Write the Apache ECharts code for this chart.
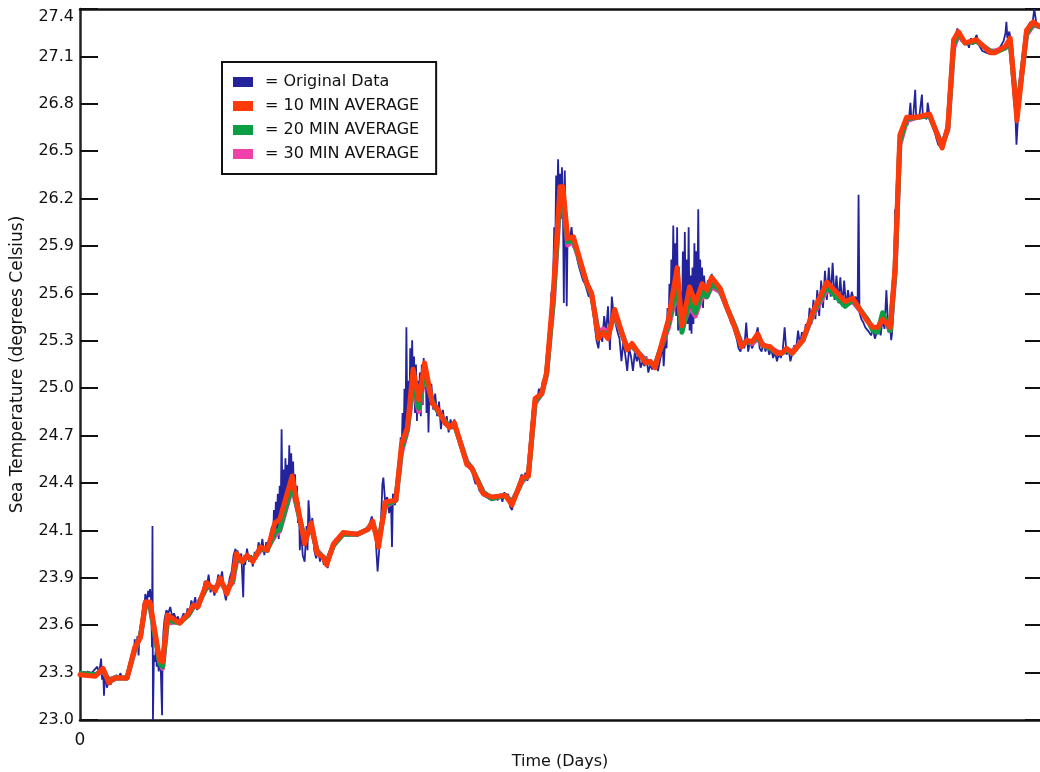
<!DOCTYPE html>
<html>
<head>
<meta charset="utf-8">
<script src="https://cdn.jsdelivr.net/npm/echarts@6/dist/echarts.min.js"></script>
<style>html,body{margin:0;padding:0;background:#fff;}#chart{width:1040px;height:772px;}</style>
</head>
<body>
<div id="chart"></div>
<script>
// Y tick labels as printed on the original axis (15 equal steps from 23.0 to 27.4)
var yTickLabels = ['23.0','23.3','23.6','23.9','24.1','24.4','24.7','25.0','25.3','25.6','25.9','26.2','26.5','26.8','27.1','27.4'];
var yMin = 23.0, yMax = 27.4;
var xMin = 0, xMax = 10;

var seriesNames = ['Original Data', '10 MIN AVERAGE', '20 MIN AVERAGE', '30 MIN AVERAGE'];

// Original (raw) data: [time, temperature]
var originalData = [
[0.00,23.29],[0.04,23.28],[0.08,23.30],[0.12,23.29],[0.15,23.31],[0.18,23.33],[0.20,23.29],[0.22,23.38],[0.23,23.25],[0.24,23.33],[0.25,23.15],[0.26,23.30],[0.28,23.20],[0.30,23.24],[0.32,23.22],[0.34,23.27],[0.36,23.24],[0.38,23.28],[0.40,23.25],[0.42,23.29],[0.44,23.26],[0.46,23.27],[0.48,23.25],[0.50,23.28],
[0.53,23.35],[0.55,23.42],[0.56,23.38],[0.57,23.50],[0.58,23.44],[0.60,23.52],[0.61,23.40],[0.62,23.54],[0.64,23.60],[0.66,23.72],[0.67,23.68],[0.68,23.78],[0.70,23.74],[0.71,23.80],[0.72,23.76],[0.73,23.81],[0.74,23.75],[0.75,23.45],[0.755,24.20],[0.76,23.00],[0.77,23.40],[0.78,23.36],[0.79,23.44],[0.80,23.33],[0.81,23.40],[0.82,23.30],[0.83,23.38],[0.84,23.34],[0.855,23.03],[0.86,23.42],[0.87,23.55],[0.88,23.62],
[0.90,23.68],[0.92,23.66],[0.94,23.70],[0.96,23.64],[0.98,23.66],[1.00,23.62],[1.02,23.64],[1.04,23.60],[1.06,23.63],[1.08,23.66],[1.10,23.62],[1.12,23.69],[1.14,23.66],[1.16,23.74],[1.18,23.70],[1.20,23.76],[1.22,23.68],[1.24,23.72],[1.26,23.77],[1.28,23.80],[1.30,23.86],[1.32,23.82],[1.34,23.90],[1.36,23.79],[1.38,23.83],[1.40,23.77],[1.42,23.82],[1.44,23.90],[1.46,23.86],[1.48,23.92],[1.50,23.80],[1.52,23.74],[1.54,23.82],[1.56,23.88],[1.58,23.92],[1.60,24.02],[1.62,24.06],[1.63,23.96],[1.64,24.05],[1.66,23.99],[1.68,24.03],[1.70,23.76],[1.71,24.02],[1.72,23.96],[1.74,24.06],[1.76,23.98],[1.78,24.02],[1.80,23.95],[1.82,24.04],[1.84,24.00],[1.86,24.10],[1.88,24.05],[1.90,24.12],[1.92,24.02],[1.94,24.10],[1.96,24.04],[1.98,24.14],
[2.00,24.20],[2.01,24.10],[2.02,24.30],[2.03,24.15],[2.04,24.35],[2.05,24.18],[2.06,24.40],[2.07,24.12],[2.08,24.45],[2.09,24.20],[2.10,24.80],[2.11,24.25],[2.12,24.55],[2.13,24.30],[2.14,24.62],[2.15,24.35],[2.16,24.58],[2.17,24.40],[2.18,24.70],[2.19,24.38],[2.20,24.65],[2.21,24.42],[2.22,24.60],[2.23,24.35],[2.24,24.52],[2.25,24.30],[2.26,24.45],[2.27,24.22],[2.28,24.35],[2.29,24.05],[2.30,24.20],
[2.32,24.02],[2.34,23.98],[2.36,24.20],[2.37,24.05],[2.38,24.36],[2.40,24.18],[2.42,24.25],[2.44,24.05],[2.46,24.00],[2.48,24.06],[2.50,23.98],[2.52,24.03],[2.54,23.96],[2.56,23.99],[2.58,23.94],[2.60,24.03],[2.62,24.08],[2.64,24.06],[2.66,24.12],[2.68,24.10],[2.70,24.14],[2.72,24.13],[2.74,24.16],[2.78,24.15],[2.82,24.14],[2.86,24.16],[2.90,24.15],[2.94,24.17],[2.98,24.18],[3.02,24.22],[3.04,24.26],[3.06,24.20],[3.08,24.12],[3.10,23.92],[3.12,24.08],[3.14,24.30],[3.15,24.46],[3.16,24.50],[3.18,24.34],[3.20,24.38],[3.22,24.28],[3.24,24.34],[3.25,24.07],[3.26,24.40],[3.28,24.33],[3.30,24.42],
[3.32,24.60],[3.33,24.50],[3.34,24.75],[3.35,24.65],[3.36,24.90],[3.37,24.70],[3.38,25.05],[3.39,24.75],[3.40,25.43],[3.41,24.80],[3.42,25.10],[3.43,24.85],[3.44,25.30],[3.45,24.95],[3.46,25.35],[3.47,25.00],[3.48,25.25],[3.49,24.90],[3.50,25.20],[3.51,24.85],[3.52,25.10],[3.53,24.95],[3.54,25.15],[3.55,24.88],[3.56,25.20],[3.57,24.95],[3.58,25.24],[3.59,25.05],[3.60,25.20],[3.61,24.90],[3.62,25.15],[3.63,24.78],[3.64,25.05],[3.65,24.95],[3.66,25.08],[3.68,24.92],[3.70,25.02],[3.72,24.88],[3.74,24.97],[3.76,24.80],[3.78,24.92],[3.80,24.82],[3.82,24.88],[3.84,24.78],[3.86,24.86],[3.88,24.80],[3.90,24.86],[3.92,24.80],
[3.95,24.74],[3.98,24.70],[4.00,24.62],[4.02,24.58],[4.04,24.60],[4.06,24.55],[4.08,24.57],[4.10,24.50],[4.12,24.46],[4.14,24.48],[4.16,24.42],[4.18,24.41],[4.20,24.39],[4.23,24.38],[4.26,24.37],[4.29,24.36],[4.32,24.38],[4.35,24.36],[4.38,24.40],[4.40,24.35],[4.42,24.41],[4.44,24.37],[4.46,24.40],[4.48,24.32],[4.50,24.30],[4.52,24.36],[4.54,24.40],[4.56,24.45],[4.58,24.48],[4.60,24.52],[4.62,24.49],[4.64,24.53],[4.66,24.48],[4.68,24.52],
[4.70,24.80],[4.72,24.95],[4.74,25.00],[4.76,24.96],[4.78,25.05],[4.80,25.00],[4.82,25.10],[4.84,25.08],[4.86,25.20],[4.88,25.30],[4.89,25.45],[4.90,25.40],[4.91,25.65],[4.92,25.55],[4.93,25.78],[4.94,26.05],[4.95,25.90],[4.96,26.37],[4.97,26.15],[4.98,26.47],[4.99,26.20],[5.00,26.38],[5.01,26.10],[5.02,26.42],[5.03,26.25],[5.04,25.58],[5.05,26.40],[5.06,26.00],[5.07,25.56],[5.08,26.05],[5.10,25.95],[5.12,26.05],[5.14,25.92],[5.16,25.98],[5.18,25.85],
[5.20,25.80],[5.22,25.76],[5.24,25.72],[5.26,25.70],[5.28,25.66],[5.30,25.62],[5.32,25.66],[5.34,25.55],[5.36,25.45],[5.38,25.35],[5.40,25.30],[5.42,25.42],[5.44,25.34],[5.46,25.50],[5.48,25.40],[5.50,25.56],[5.52,25.29],[5.54,25.62],[5.56,25.50],[5.58,25.45],[5.60,25.40],[5.62,25.36],[5.64,25.22],[5.66,25.34],[5.68,25.26],[5.70,25.16],[5.72,25.30],[5.74,25.25],[5.76,25.16],[5.78,25.28],[5.80,25.22],[5.82,25.26],[5.84,25.18],[5.86,25.22],[5.88,25.19],[5.90,25.25],[5.92,25.15],[5.94,25.20],[5.96,25.17],[5.98,25.19],[6.00,25.22],[6.02,25.16],
[6.05,25.25],[6.07,25.32],[6.08,25.19],[6.10,25.40],[6.11,25.30],[6.12,25.55],[6.13,25.42],[6.14,25.70],[6.15,25.48],[6.16,25.85],[6.17,25.55],[6.18,26.06],[6.19,25.60],[6.20,25.95],[6.21,25.50],[6.22,26.05],[6.23,25.41],[6.24,25.80],[6.25,25.45],[6.26,25.65],[6.27,25.40],[6.28,25.90],[6.29,25.42],[6.30,26.02],[6.31,25.50],[6.32,25.85],[6.33,25.45],[6.34,26.05],[6.35,25.41],[6.36,25.75],[6.37,25.39],[6.38,25.80],[6.39,25.45],[6.40,25.95],[6.41,25.50],[6.42,25.90],[6.43,25.52],[6.44,26.16],[6.45,25.55],[6.46,25.85],[6.47,25.60],[6.48,25.80],[6.49,25.55],[6.50,25.75],[6.52,25.62],[6.54,25.72],[6.56,25.68],[6.58,25.76],[6.60,25.70],[6.62,25.68],[6.64,25.66],
[6.66,25.65],[6.68,25.62],[6.70,25.60],[6.72,25.56],[6.74,25.55],[6.76,25.50],[6.78,25.46],[6.80,25.44],[6.82,25.40],[6.84,25.36],[6.86,25.30],[6.88,25.28],[6.90,25.34],[6.92,25.30],[6.94,25.46],[6.96,25.28],[6.98,25.35],[7.00,25.30],[7.02,25.33],[7.04,25.38],[7.06,25.43],[7.08,25.30],[7.10,25.28],[7.12,25.34],[7.14,25.28],[7.16,25.32],[7.18,25.26],[7.20,25.30],[7.22,25.24],[7.24,25.28],[7.26,25.22],[7.28,25.27],[7.30,25.24],[7.32,25.29],[7.34,25.43],[7.36,25.26],[7.38,25.30],[7.40,25.22],[7.42,25.27],[7.44,25.32],[7.46,25.30],[7.48,25.41],
[7.50,25.32],[7.52,25.40],[7.54,25.36],[7.56,25.45],[7.58,25.40],[7.60,25.55],[7.62,25.45],[7.64,25.60],[7.66,25.48],[7.68,25.66],[7.70,25.50],[7.72,25.72],[7.74,25.55],[7.76,25.78],[7.78,25.60],[7.80,25.80],[7.82,25.62],[7.84,25.83],[7.86,25.60],[7.88,25.75],[7.90,25.58],[7.92,25.74],[7.94,25.56],[7.96,25.72],[7.98,25.55],[8.00,25.66],[8.02,25.58],[8.04,25.65],[8.06,25.60],[8.08,25.62],[8.10,25.55],[8.11,26.25],[8.12,25.52],[8.14,25.48],[8.16,25.46],[8.18,25.43],[8.20,25.42],[8.22,25.40],[8.24,25.38],[8.26,25.42],[8.28,25.36],[8.30,25.40],[8.32,25.44],[8.34,25.38],[8.36,25.48],[8.38,25.42],[8.40,25.66],[8.42,25.40],[8.44,25.42],[8.45,25.35],[8.46,25.40],
[8.48,25.60],[8.49,26.16],[8.50,25.90],[8.51,26.05],[8.52,26.20],[8.53,26.45],[8.54,26.55],[8.56,26.62],[8.58,26.70],[8.60,26.72],[8.62,26.68],[8.64,26.75],[8.65,26.82],[8.66,26.72],[8.68,26.74],[8.70,26.90],[8.71,26.73],[8.72,26.74],[8.74,26.72],[8.77,26.87],[8.78,26.73],[8.80,26.74],[8.82,26.72],[8.83,26.82],[8.85,26.74],[8.86,26.75],[8.88,26.70],[8.90,26.65],[8.92,26.60],[8.94,26.56],[8.96,26.55],[8.99,26.53],[9.00,26.58],[9.02,26.62],[9.04,26.68],[9.06,26.85],[9.08,27.05],[9.10,27.22],
[9.12,27.24],[9.14,27.28],[9.16,27.24],[9.18,27.20],[9.20,27.22],[9.22,27.18],[9.24,27.20],[9.26,27.16],[9.28,27.22],[9.30,27.18],[9.32,27.21],[9.34,27.24],[9.36,27.18],[9.38,27.16],[9.40,27.14],[9.42,27.15],[9.44,27.13],[9.46,27.14],[9.48,27.12],[9.50,27.14],[9.52,27.12],[9.54,27.14],[9.56,27.15],[9.58,27.16],[9.60,27.18],[9.62,27.20],[9.64,27.25],[9.65,27.32],[9.66,27.22],[9.68,27.26],[9.70,27.20],[9.72,27.00],[9.74,26.80],[9.755,26.56],[9.77,26.72],[9.79,26.90],[9.82,27.10],[9.85,27.25],[9.88,27.30],[9.90,27.32],[9.92,27.30],[9.94,27.40],[9.96,27.32],[9.98,27.30],[10.00,27.28]
];

// Times of the running-average samples
var avgTime = [
0.00,0.16,0.24,0.30,0.36,0.49,0.57,0.63,0.68,0.73,
0.83,0.86,0.91,1.04,1.13,1.18,1.23,1.32,1.41,1.46,
1.53,1.59,1.63,1.69,1.74,1.80,1.88,1.95,2.03,2.08,
2.21,2.22,2.34,2.41,2.47,2.53,2.57,2.64,2.74,2.89,
3.00,3.05,3.11,3.18,3.29,3.35,3.41,3.47,3.53,3.59,
3.67,3.73,3.80,3.85,3.90,4.03,4.08,4.20,4.29,4.43,
4.50,4.61,4.67,4.74,4.81,4.86,4.93,5.00,5.03,5.08,
5.14,5.28,5.33,5.40,5.45,5.50,5.57,5.70,5.75,5.89,
5.94,5.99,6.13,6.22,6.27,6.35,6.41,6.48,6.53,6.58,
6.67,6.74,6.82,6.89,6.95,7.00,7.06,7.11,7.19,7.26,
7.31,7.36,7.42,7.53,7.63,7.78,7.86,7.97,8.05,8.20,
8.26,8.31,8.36,8.44,8.49,8.54,8.61,8.72,8.85,8.98,
9.04,9.10,9.15,9.22,9.34,9.48,9.53,9.64,9.69,9.76,
9.86,9.93,10.00
];
var avg10 = [
23.28,23.27,23.32,23.23,23.26,23.26,23.45,23.51,23.73,23.73,
23.37,23.36,23.65,23.60,23.66,23.71,23.70,23.85,23.80,23.88,
23.78,23.88,24.03,23.98,24.02,23.98,24.07,24.05,24.22,24.24,
24.51,24.50,24.09,24.22,24.03,24.01,23.96,24.09,24.16,24.15,
24.18,24.23,24.07,24.35,24.36,24.71,24.81,25.17,24.98,25.21,
24.96,24.92,24.84,24.81,24.84,24.58,24.56,24.40,24.38,24.39,
24.33,24.50,24.51,24.99,25.02,25.15,25.65,26.30,26.30,25.98,
25.99,25.70,25.64,25.36,25.40,25.36,25.54,25.29,25.33,25.21,
25.22,25.18,25.48,25.80,25.44,25.68,25.58,25.70,25.66,25.74,
25.67,25.55,25.43,25.31,25.35,25.34,25.39,25.32,25.31,25.27,
25.27,25.30,25.27,25.35,25.52,25.71,25.66,25.59,25.61,25.47,
25.43,25.43,25.48,25.43,25.80,26.62,26.73,26.73,26.75,26.54,
26.67,27.21,27.26,27.19,27.21,27.13,27.13,27.17,27.22,26.71,
27.27,27.32,27.29
];
var avg20 = [
23.29,23.28,23.31,23.24,23.26,23.26,23.44,23.52,23.71,23.71,
23.35,23.33,23.62,23.60,23.65,23.70,23.71,23.83,23.81,23.86,
23.80,23.86,24.00,23.98,24.01,23.99,24.06,24.05,24.16,24.18,
24.46,24.46,24.11,24.20,24.04,24.01,23.97,24.08,24.15,24.15,
24.18,24.22,24.10,24.33,24.36,24.68,24.80,25.10,24.93,25.17,
24.97,24.91,24.85,24.81,24.83,24.59,24.56,24.41,24.37,24.39,
24.34,24.49,24.51,24.97,25.02,25.14,25.60,26.25,26.26,25.96,
25.97,25.70,25.63,25.38,25.40,25.38,25.52,25.30,25.32,25.22,
25.21,25.19,25.45,25.70,25.40,25.60,25.52,25.65,25.62,25.70,
25.66,25.55,25.44,25.32,25.34,25.34,25.37,25.32,25.30,25.27,
25.27,25.29,25.27,25.35,25.51,25.68,25.63,25.56,25.60,25.48,
25.41,25.40,25.52,25.41,25.78,26.58,26.72,26.73,26.74,26.55,
26.66,27.18,27.25,27.19,27.20,27.14,27.13,27.16,27.20,26.74,
27.25,27.31,27.29
];
var avg30 = [
23.29,23.28,23.30,23.25,23.26,23.26,23.43,23.52,23.70,23.70,
23.36,23.32,23.60,23.61,23.65,23.70,23.72,23.82,23.82,23.85,
23.81,23.85,23.98,23.99,24.01,23.99,24.05,24.06,24.14,24.17,
24.44,24.44,24.12,24.19,24.05,24.01,23.98,24.08,24.15,24.15,
24.18,24.21,24.11,24.32,24.36,24.66,24.79,25.06,24.91,25.14,
24.97,24.91,24.85,24.81,24.83,24.60,24.56,24.41,24.37,24.39,
24.35,24.48,24.51,24.96,25.02,25.14,25.58,26.22,26.24,25.94,
25.96,25.70,25.63,25.40,25.42,25.40,25.50,25.31,25.31,25.23,
25.21,25.20,25.43,25.66,25.42,25.56,25.50,25.62,25.62,25.68,
25.65,25.55,25.44,25.33,25.34,25.33,25.36,25.32,25.30,25.28,
25.27,25.29,25.28,25.35,25.50,25.66,25.64,25.57,25.59,25.48,
25.42,25.41,25.50,25.41,25.76,26.56,26.71,26.73,26.74,26.56,
26.65,27.16,27.24,27.19,27.20,27.14,27.14,27.16,27.19,26.76,
27.24,27.30,27.29
];

function zipAvg(vals) {
  return avgTime.map(function (t, i) { return [t, vals[i]]; });
}

var FONT = 'DejaVu Sans';
var chart = echarts.init(document.getElementById('chart'), null, {renderer: 'canvas'});
var nSteps = yTickLabels.length - 1;

chart.setOption({
  backgroundColor: '#ffffff',
  animation: false,
  textStyle: {fontFamily: FONT},
  grid: {left: 80, right: 0, top: 9, bottom: 52, containLabel: false, outerBoundsMode: 'none'},
  legend: {
    orient: 'vertical',
    left: 222, top: 62,
    icon: 'rect',
    itemWidth: 20, itemHeight: 10,
    itemGap: 6,
    padding: [11, 17, 11, 11],
    borderColor: '#111', borderWidth: 2,
    backgroundColor: '#fff',
    data: seriesNames,
    formatter: function (n) { return '= ' + n; },
    textStyle: {fontFamily: FONT, fontSize: 16, color: '#111', lineHeight: 18, padding: [0, 0, 0, 7]}
  },
  xAxis: [{
    type: 'value', min: xMin, max: xMax, interval: 10,
    position: 'bottom',
    name: 'Time (Days)', nameLocation: 'middle', nameGap: 31,
    nameTextStyle: {fontFamily: FONT, fontSize: 16, color: '#111'},
    axisLine: {show: true, onZero: false, lineStyle: {color: '#111', width: 2.5}},
    axisTick: {show: false},
    splitLine: {show: false},
    axisLabel: {margin: 12, fontSize: 17, color: '#111', fontFamily: FONT,
      formatter: function (v) { return v === 0 ? '0' : ''; }}
  }, {
    type: 'value', min: xMin, max: xMax, position: 'top',
    axisLine: {show: true, onZero: false, lineStyle: {color: '#111', width: 2.5}},
    axisTick: {show: false}, axisLabel: {show: false}, splitLine: {show: false}
  }],
  yAxis: [{
    type: 'value', min: yMin, max: yMax, show: false
  }, {
    type: 'value', min: 0, max: nSteps, interval: 1, position: 'left',
    name: 'Sea Temperature (degrees Celsius)', nameLocation: 'middle', nameGap: 54,
    nameRotate: 90,
    nameTextStyle: {fontFamily: FONT, fontSize: 17, color: '#111'},
    axisLine: {show: true, onZero: false, lineStyle: {color: '#222', width: 2.5}},
    axisTick: {show: true, inside: true, length: 18, lineStyle: {color: '#111', width: 2}},
    splitLine: {show: false},
    axisLabel: {margin: 6, fontSize: 16, color: '#111', fontFamily: FONT,
      verticalAlignMaxLabel: 'top',
      formatter: function (v) { return yTickLabels[v] || ''; }}
  }, {
    type: 'value', min: 0, max: nSteps, interval: 1, position: 'right',
    axisLine: {show: true, onZero: false, lineStyle: {color: 'rgba(0,0,0,0)', width: 1}},
    axisTick: {show: true, inside: true, length: 15, lineStyle: {color: '#111', width: 2}},
    splitLine: {show: false}, axisLabel: {show: false}
  }],
  series: [{
    name: seriesNames[0], type: 'line', xAxisIndex: 0, yAxisIndex: 0,
    data: originalData, showSymbol: false, symbol: 'none', z: 1,
    color: '#23239c',
    lineStyle: {color: '#23239c', width: 1.8}
  }, {
    name: seriesNames[1], type: 'line', xAxisIndex: 0, yAxisIndex: 0,
    data: zipAvg(avg10), showSymbol: false, symbol: 'none', z: 5,
    color: '#ff3a0a',
    lineStyle: {color: '#ff3a0a', width: 5, join: 'round', cap: 'round'}
  }, {
    name: seriesNames[2], type: 'line', xAxisIndex: 0, yAxisIndex: 0,
    data: zipAvg(avg20), showSymbol: false, symbol: 'none', z: 4,
    color: '#0a9e45',
    lineStyle: {color: '#0a9e45', width: 5, join: 'round'}
  }, {
    name: seriesNames[3], type: 'line', xAxisIndex: 0, yAxisIndex: 0,
    data: zipAvg(avg30), showSymbol: false, symbol: 'none', z: 3,
    color: '#f040aa',
    lineStyle: {color: '#f040aa', width: 5, join: 'round'}
  }]
});
</script>
</body>
</html>
